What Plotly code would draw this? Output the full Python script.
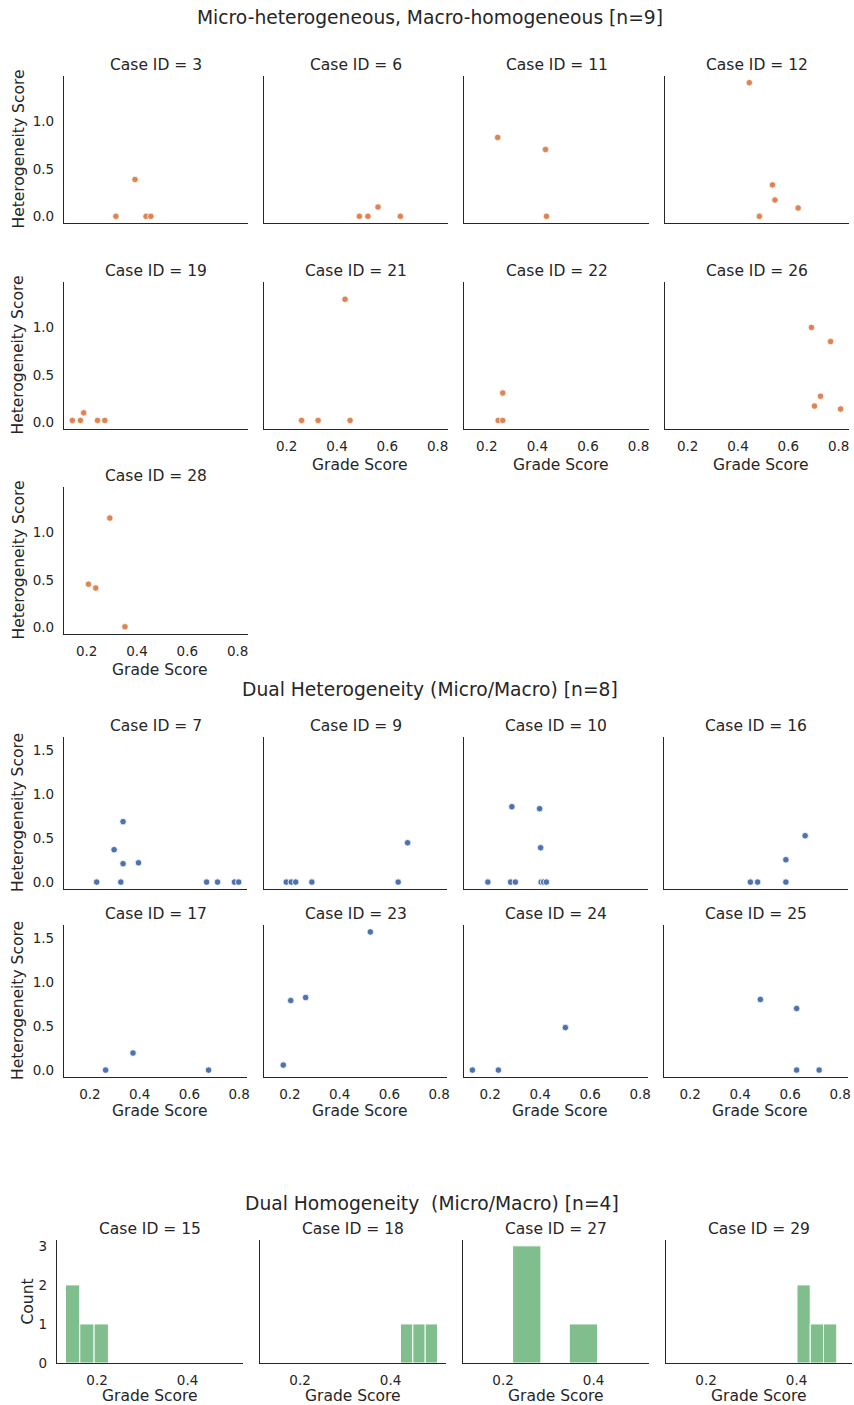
import numpy as np
import plotly.graph_objects as go

W, H = 854, 1405

# ---------------- DATA ----------------
# Section 1: Micro-heterogeneous, Macro-homogeneous
sec1_title = "Micro-heterogeneous, Macro-homogeneous [n=9]"
sec1_cases = [3, 6, 11, 12, 19, 21, 22, 26, 28]
c3_grade = [0.316, 0.392, 0.436, 0.455]
c3_het = [0.0, 0.388, 0.0, 0.0]
c6_grade = [0.489, 0.523, 0.563, 0.652]
c6_het = [0.0, 0.0, 0.098, 0.0]
c11_grade = [0.243, 0.432, 0.436]
c11_het = [0.831, 0.704, 0.0]
c12_grade = [0.445, 0.537, 0.547, 0.639, 0.485]
c12_het = [1.408, 0.331, 0.172, 0.088, 0.0]
c19_grade = [0.143, 0.175, 0.188, 0.243, 0.272]
c19_het = [0.02, 0.02, 0.10, 0.02, 0.02]
c21_grade = [0.259, 0.325, 0.432, 0.452]
c21_het = [0.02, 0.02, 1.296, 0.02]
c22_grade = [0.263, 0.245, 0.263]
c22_het = [0.309, 0.02, 0.02]
c26_grade = [0.692, 0.768, 0.728, 0.704, 0.808]
c26_het = [1.0, 0.851, 0.275, 0.171, 0.140]
c28_grade = [0.292, 0.207, 0.236, 0.352]
c28_het = [1.151, 0.455, 0.414, 0.006]

# Section 2: Dual Heterogeneity
sec2_title = "Dual Heterogeneity (Micro/Macro) [n=8]"
sec2_cases = [7, 9, 10, 16, 17, 23, 24, 25]
c7_grade = [0.227, 0.297, 0.333, 0.333, 0.324, 0.395, 0.669, 0.713, 0.781, 0.798]
c7_het = [0.0, 0.37, 0.69, 0.21, 0.0, 0.22, 0.0, 0.0, 0.0, 0.0]
c9_grade = [0.185, 0.205, 0.223, 0.288, 0.635, 0.673]
c9_het = [0.0, 0.0, 0.0, 0.0, 0.0, 0.449]
c10_grade = [0.191, 0.282, 0.301, 0.287, 0.398, 0.402, 0.404, 0.414, 0.425]
c10_het = [0.0, 0.0, 0.0, 0.86, 0.838, 0.392, 0.0, 0.0, 0.0]
c16_grade = [0.441, 0.470, 0.583, 0.583, 0.660]
c16_het = [0.0, 0.0, 0.0, 0.255, 0.529]
c17_grade = [0.263, 0.373, 0.677]
c17_het = [0.0, 0.195, 0.0]
c23_grade = [0.173, 0.203, 0.263, 0.523]
c23_het = [0.057, 0.794, 0.828, 1.577]
c24_grade = [0.129, 0.233, 0.501]
c24_het = [0.0, 0.0, 0.485]
c25_grade = [0.481, 0.626, 0.626, 0.716]
c25_het = [0.806, 0.703, 0.0, 0.0]

# Section 3: Dual Homogeneity (histograms of grade score)
sec3_title = "Dual Homogeneity  (Micro/Macro) [n=4]"
sec3_cases = [15, 18, 27, 29]
c15_grade = [0.13, 0.15, 0.175, 0.225]
c18_grade = [0.422, 0.46, 0.504]
c27_grade = [0.221, 0.24, 0.265, 0.409]
c29_grade = [0.401, 0.42, 0.45, 0.489]
hist_bins = 3

x_ticks_scatter = [0.2, 0.4, 0.6, 0.8]
x_ticks_hist = [0.2, 0.4]
y_ticks_sec1 = [0.0, 0.5, 1.0]
y_ticks_sec2 = [0.0, 0.5, 1.0, 1.5]
y_ticks_sec3 = [0, 1, 2, 3]

sec1_data = [(c3_grade, c3_het), (c6_grade, c6_het), (c11_grade, c11_het), (c12_grade, c12_het),
             (c19_grade, c19_het), (c21_grade, c21_het), (c22_grade, c22_het), (c26_grade, c26_het),
             (c28_grade, c28_het)]
sec2_data = [(c7_grade, c7_het), (c9_grade, c9_het), (c10_grade, c10_het), (c16_grade, c16_het),
             (c17_grade, c17_het), (c23_grade, c23_het), (c24_grade, c24_het), (c25_grade, c25_het)]
sec3_data = [c15_grade, c18_grade, c27_grade, c29_grade]

# ---------------- STYLE ----------------
FONT = "DejaVu Sans"
TXT = "#262626"
ORANGE = "#dd8452"
BLUE = "#4c72b0"
GREEN = "rgba(85,168,104,0.75)"


def margin_range(vals, frac=0.05):
    lo, hi = min(vals), max(vals)
    s = hi - lo
    return [lo - frac * s, hi + frac * s]


fig = go.Figure()
layout = {}
annotations = []
counter = [0]


def add_axes(box, xr, yr, xticks, yticks, showx, showy, xfmt, yfmt):
    counter[0] += 1
    i = counter[0]
    l, r, t, b = box
    xs = "" if i == 1 else str(i)
    layout["xaxis" + xs] = dict(
        domain=[l / W, r / W], range=xr, anchor="y" + xs, automargin=False,
        showline=True, linecolor=TXT, linewidth=1.25, showgrid=False, zeroline=False,
        tickvals=xticks, tickformat=xfmt, showticklabels=showx, ticks="",
        ticklabelstandoff=5, tickfont=dict(family=FONT, size=13.5, color=TXT),
    )
    layout["yaxis" + xs] = dict(
        domain=[1 - b / H, 1 - t / H], range=yr, anchor="x" + xs, automargin=False,
        showline=True, linecolor=TXT, linewidth=1.25, showgrid=False, zeroline=False,
        tickvals=yticks, tickformat=yfmt, showticklabels=showy, ticks="",
        ticklabelstandoff=6, tickfont=dict(family=FONT, size=13.5, color=TXT),
    )
    return "x" + xs, "y" + xs


def text(x, y, s, size, angle=0):
    annotations.append(dict(x=x / W, y=1 - y / H, xref="paper", yref="paper", text=s,
                            showarrow=False, textangle=angle, xanchor="center", yanchor="middle",
                            font=dict(family=FONT, size=size, color=TXT)))


# ---------------- SECTION 1 ----------------
s1_cols = [(64, 248), (264, 448), (464, 649), (665, 849)]
s1_rows = [(76, 223), (282, 429), (487, 634)]
s1_xr = margin_range([v for g, _ in sec1_data for v in g])
s1_yr = margin_range([v for _, h in sec1_data for v in h])
text(430, 18, sec1_title, 18.7)
for k, (case, (g, h)) in enumerate(zip(sec1_cases, sec1_data)):
    row, col = divmod(k, 4)
    (l, r), (t, b) = s1_cols[col], s1_rows[row]
    bottom = (row == 2) or (row == 1 and col >= 1)
    xa, ya = add_axes((l, r, t, b), s1_xr, s1_yr, x_ticks_scatter, y_ticks_sec1,
                      bottom, col == 0, ".1f", ".1f")
    fig.add_trace(go.Scatter(x=g, y=h, mode="markers", xaxis=xa, yaxis=ya, showlegend=False,
                             marker=dict(color=ORANGE, size=6.5, line=dict(color="white", width=0.8))))
    text((l + r) / 2, t - 11, f"Case ID = {case}", 15.5)
    if col == 0:
        text(18, (t + b) / 2, "Heterogeneity Score", 15.5, -90)
    if bottom:
        text((l + r) / 2 + 4, b + 36, "Grade Score", 15.5)

# ---------------- SECTION 2 ----------------
s2_cols = [(64, 247), (264, 447), (464, 648), (664, 848)]
s2_rows = [(737, 889), (925, 1077)]
s2_xr = margin_range([v for g, _ in sec2_data for v in g])
s2_yr = margin_range([v for _, h in sec2_data for v in h])
text(430, 689, sec2_title, 18.7)
for k, (case, (g, h)) in enumerate(zip(sec2_cases, sec2_data)):
    row, col = divmod(k, 4)
    (l, r), (t, b) = s2_cols[col], s2_rows[row]
    bottom = row == 1
    xa, ya = add_axes((l, r, t, b), s2_xr, s2_yr, x_ticks_scatter, y_ticks_sec2,
                      bottom, col == 0, ".1f", ".1f")
    fig.add_trace(go.Scatter(x=g, y=h, mode="markers", xaxis=xa, yaxis=ya, showlegend=False,
                             marker=dict(color=BLUE, size=6.5, line=dict(color="white", width=0.8))))
    text((l + r) / 2, t - 11, f"Case ID = {case}", 15.5)
    if col == 0:
        text(18, (t + b) / 2, "Heterogeneity Score", 15.5, -90)
    if bottom:
        text((l + r) / 2 + 4, b + 34, "Grade Score", 15.5)

# ---------------- SECTION 3 ----------------
s3_cols = [(57, 243), (260, 446), (463, 649), (666, 852)]
s3_row = (1240, 1363)
s3_xr = margin_range([v for g in sec3_data for v in g])
hist = [np.histogram(g, bins=hist_bins) for g in sec3_data]
s3_yr = [0, 1.05 * max(c.max() for c, _ in hist)]
text(432, 1203, sec3_title, 18.7)
for k, (case, g) in enumerate(zip(sec3_cases, sec3_data)):
    (l, r), (t, b) = s3_cols[k], s3_row
    xa, ya = add_axes((l, r, t, b), s3_xr, s3_yr, x_ticks_hist, y_ticks_sec3,
                      True, k == 0, ".1f", "d")
    counts, edges = hist[k]
    centers = (edges[:-1] + edges[1:]) / 2
    widths = np.diff(edges)
    fig.add_trace(go.Bar(x=centers, y=counts, width=widths, xaxis=xa, yaxis=ya, showlegend=False,
                         marker=dict(color=GREEN, line=dict(color="white", width=1))))
    text((l + r) / 2, t - 11, f"Case ID = {case}", 15.5)
    if k == 0:
        text(27, (t + b) / 2, "Count", 15.5, -90)
    text((l + r) / 2, b + 33, "Grade Score", 15.5)

fig.update_layout(
    width=W, height=H, margin=dict(l=0, r=0, t=0, b=0, autoexpand=False),
    paper_bgcolor="white", plot_bgcolor="white",
    font=dict(family=FONT, color=TXT), annotations=annotations,
    **layout,
)
fig.write_html(
    "out.html",
    config={"displayModeBar": False},
    post_script=(
        "document.documentElement.style.margin='0';"
        "document.documentElement.style.padding='0';"
        "document.documentElement.style.overflow='hidden';"
        "document.body.style.margin='0';"
        "document.body.style.padding='0';"
        "document.body.style.overflow='hidden';"
    ),
)
